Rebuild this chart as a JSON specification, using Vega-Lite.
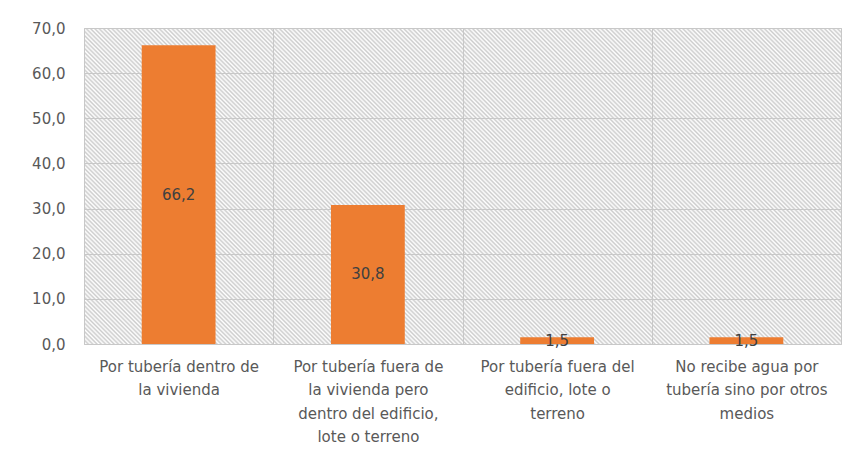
{
  "$schema": "https://vega.github.io/schema/vega-lite/v6.json",
  "width": 757,
  "height": 316,
  "autosize": {"type": "none"},
  "padding": {"left": 84, "top": 28, "right": 15, "bottom": 111},
  "background": "#ffffff",
  "config": {
    "locale": {"number": {"decimal": ",", "thousands": ".", "grouping": [3], "currency": ["", " €"]}},
    "view": {
      "stroke": "#c8c8c8", "strokeWidth": 1,
      "fill": {"gradient": "linear", "x1": 0, "y1": 1, "x2": 1.2071, "y2": 0.4961, "stops": [
{"offset":0.000,"color":"#ccc"},{"offset":0.002,"color":"#fff"},{"offset":0.004,"color":"#ccc"},{"offset":0.006,"color":"#fff"},{"offset":0.008,"color":"#ccc"},
{"offset":0.010,"color":"#fff"},{"offset":0.012,"color":"#ccc"},{"offset":0.014,"color":"#fff"},{"offset":0.016,"color":"#ccc"},{"offset":0.018,"color":"#fff"},
{"offset":0.020,"color":"#ccc"},{"offset":0.022,"color":"#fff"},{"offset":0.024,"color":"#ccc"},{"offset":0.026,"color":"#fff"},{"offset":0.028,"color":"#ccc"},
{"offset":0.030,"color":"#fff"},{"offset":0.032,"color":"#ccc"},{"offset":0.034,"color":"#fff"},{"offset":0.036,"color":"#ccc"},{"offset":0.038,"color":"#fff"},
{"offset":0.040,"color":"#ccc"},{"offset":0.042,"color":"#fff"},{"offset":0.044,"color":"#ccc"},{"offset":0.046,"color":"#fff"},{"offset":0.048,"color":"#ccc"},
{"offset":0.050,"color":"#fff"},{"offset":0.052,"color":"#ccc"},{"offset":0.054,"color":"#fff"},{"offset":0.056,"color":"#ccc"},{"offset":0.058,"color":"#fff"},
{"offset":0.060,"color":"#ccc"},{"offset":0.062,"color":"#fff"},{"offset":0.064,"color":"#ccc"},{"offset":0.066,"color":"#fff"},{"offset":0.068,"color":"#ccc"},
{"offset":0.070,"color":"#fff"},{"offset":0.072,"color":"#ccc"},{"offset":0.074,"color":"#fff"},{"offset":0.076,"color":"#ccc"},{"offset":0.078,"color":"#fff"},
{"offset":0.080,"color":"#ccc"},{"offset":0.082,"color":"#fff"},{"offset":0.084,"color":"#ccc"},{"offset":0.086,"color":"#fff"},{"offset":0.088,"color":"#ccc"},
{"offset":0.090,"color":"#fff"},{"offset":0.092,"color":"#ccc"},{"offset":0.094,"color":"#fff"},{"offset":0.096,"color":"#ccc"},{"offset":0.098,"color":"#fff"},
{"offset":0.100,"color":"#ccc"},{"offset":0.102,"color":"#fff"},{"offset":0.104,"color":"#ccc"},{"offset":0.106,"color":"#fff"},{"offset":0.108,"color":"#ccc"},
{"offset":0.110,"color":"#fff"},{"offset":0.112,"color":"#ccc"},{"offset":0.114,"color":"#fff"},{"offset":0.116,"color":"#ccc"},{"offset":0.118,"color":"#fff"},
{"offset":0.120,"color":"#ccc"},{"offset":0.122,"color":"#fff"},{"offset":0.124,"color":"#ccc"},{"offset":0.126,"color":"#fff"},{"offset":0.128,"color":"#ccc"},
{"offset":0.130,"color":"#fff"},{"offset":0.132,"color":"#ccc"},{"offset":0.134,"color":"#fff"},{"offset":0.136,"color":"#ccc"},{"offset":0.138,"color":"#fff"},
{"offset":0.140,"color":"#ccc"},{"offset":0.142,"color":"#fff"},{"offset":0.144,"color":"#ccc"},{"offset":0.146,"color":"#fff"},{"offset":0.148,"color":"#ccc"},
{"offset":0.150,"color":"#fff"},{"offset":0.152,"color":"#ccc"},{"offset":0.154,"color":"#fff"},{"offset":0.156,"color":"#ccc"},{"offset":0.158,"color":"#fff"},
{"offset":0.160,"color":"#ccc"},{"offset":0.162,"color":"#fff"},{"offset":0.164,"color":"#ccc"},{"offset":0.166,"color":"#fff"},{"offset":0.168,"color":"#ccc"},
{"offset":0.170,"color":"#fff"},{"offset":0.172,"color":"#ccc"},{"offset":0.174,"color":"#fff"},{"offset":0.176,"color":"#ccc"},{"offset":0.178,"color":"#fff"},
{"offset":0.180,"color":"#ccc"},{"offset":0.182,"color":"#fff"},{"offset":0.184,"color":"#ccc"},{"offset":0.186,"color":"#fff"},{"offset":0.188,"color":"#ccc"},
{"offset":0.190,"color":"#fff"},{"offset":0.192,"color":"#ccc"},{"offset":0.194,"color":"#fff"},{"offset":0.196,"color":"#ccc"},{"offset":0.198,"color":"#fff"},
{"offset":0.200,"color":"#ccc"},{"offset":0.202,"color":"#fff"},{"offset":0.204,"color":"#ccc"},{"offset":0.206,"color":"#fff"},{"offset":0.208,"color":"#ccc"},
{"offset":0.210,"color":"#fff"},{"offset":0.212,"color":"#ccc"},{"offset":0.214,"color":"#fff"},{"offset":0.216,"color":"#ccc"},{"offset":0.218,"color":"#fff"},
{"offset":0.220,"color":"#ccc"},{"offset":0.222,"color":"#fff"},{"offset":0.224,"color":"#ccc"},{"offset":0.226,"color":"#fff"},{"offset":0.228,"color":"#ccc"},
{"offset":0.230,"color":"#fff"},{"offset":0.232,"color":"#ccc"},{"offset":0.234,"color":"#fff"},{"offset":0.236,"color":"#ccc"},{"offset":0.238,"color":"#fff"},
{"offset":0.240,"color":"#ccc"},{"offset":0.242,"color":"#fff"},{"offset":0.244,"color":"#ccc"},{"offset":0.246,"color":"#fff"},{"offset":0.248,"color":"#ccc"},
{"offset":0.250,"color":"#fff"},{"offset":0.252,"color":"#ccc"},{"offset":0.254,"color":"#fff"},{"offset":0.256,"color":"#ccc"},{"offset":0.258,"color":"#fff"},
{"offset":0.260,"color":"#ccc"},{"offset":0.262,"color":"#fff"},{"offset":0.264,"color":"#ccc"},{"offset":0.266,"color":"#fff"},{"offset":0.268,"color":"#ccc"},
{"offset":0.270,"color":"#fff"},{"offset":0.272,"color":"#ccc"},{"offset":0.274,"color":"#fff"},{"offset":0.276,"color":"#ccc"},{"offset":0.278,"color":"#fff"},
{"offset":0.280,"color":"#ccc"},{"offset":0.282,"color":"#fff"},{"offset":0.284,"color":"#ccc"},{"offset":0.286,"color":"#fff"},{"offset":0.288,"color":"#ccc"},
{"offset":0.290,"color":"#fff"},{"offset":0.292,"color":"#ccc"},{"offset":0.294,"color":"#fff"},{"offset":0.296,"color":"#ccc"},{"offset":0.298,"color":"#fff"},
{"offset":0.300,"color":"#ccc"},{"offset":0.302,"color":"#fff"},{"offset":0.304,"color":"#ccc"},{"offset":0.306,"color":"#fff"},{"offset":0.308,"color":"#ccc"},
{"offset":0.310,"color":"#fff"},{"offset":0.312,"color":"#ccc"},{"offset":0.314,"color":"#fff"},{"offset":0.316,"color":"#ccc"},{"offset":0.318,"color":"#fff"},
{"offset":0.320,"color":"#ccc"},{"offset":0.322,"color":"#fff"},{"offset":0.324,"color":"#ccc"},{"offset":0.326,"color":"#fff"},{"offset":0.328,"color":"#ccc"},
{"offset":0.330,"color":"#fff"},{"offset":0.332,"color":"#ccc"},{"offset":0.334,"color":"#fff"},{"offset":0.336,"color":"#ccc"},{"offset":0.338,"color":"#fff"},
{"offset":0.340,"color":"#ccc"},{"offset":0.342,"color":"#fff"},{"offset":0.344,"color":"#ccc"},{"offset":0.346,"color":"#fff"},{"offset":0.348,"color":"#ccc"},
{"offset":0.350,"color":"#fff"},{"offset":0.352,"color":"#ccc"},{"offset":0.354,"color":"#fff"},{"offset":0.356,"color":"#ccc"},{"offset":0.358,"color":"#fff"},
{"offset":0.360,"color":"#ccc"},{"offset":0.362,"color":"#fff"},{"offset":0.364,"color":"#ccc"},{"offset":0.366,"color":"#fff"},{"offset":0.368,"color":"#ccc"},
{"offset":0.370,"color":"#fff"},{"offset":0.372,"color":"#ccc"},{"offset":0.374,"color":"#fff"},{"offset":0.376,"color":"#ccc"},{"offset":0.378,"color":"#fff"},
{"offset":0.380,"color":"#ccc"},{"offset":0.382,"color":"#fff"},{"offset":0.384,"color":"#ccc"},{"offset":0.386,"color":"#fff"},{"offset":0.388,"color":"#ccc"},
{"offset":0.390,"color":"#fff"},{"offset":0.392,"color":"#ccc"},{"offset":0.394,"color":"#fff"},{"offset":0.396,"color":"#ccc"},{"offset":0.398,"color":"#fff"},
{"offset":0.400,"color":"#ccc"},{"offset":0.402,"color":"#fff"},{"offset":0.404,"color":"#ccc"},{"offset":0.406,"color":"#fff"},{"offset":0.408,"color":"#ccc"},
{"offset":0.410,"color":"#fff"},{"offset":0.412,"color":"#ccc"},{"offset":0.414,"color":"#fff"},{"offset":0.416,"color":"#ccc"},{"offset":0.418,"color":"#fff"},
{"offset":0.420,"color":"#ccc"},{"offset":0.422,"color":"#fff"},{"offset":0.424,"color":"#ccc"},{"offset":0.426,"color":"#fff"},{"offset":0.428,"color":"#ccc"},
{"offset":0.430,"color":"#fff"},{"offset":0.432,"color":"#ccc"},{"offset":0.434,"color":"#fff"},{"offset":0.436,"color":"#ccc"},{"offset":0.438,"color":"#fff"},
{"offset":0.440,"color":"#ccc"},{"offset":0.442,"color":"#fff"},{"offset":0.444,"color":"#ccc"},{"offset":0.446,"color":"#fff"},{"offset":0.448,"color":"#ccc"},
{"offset":0.450,"color":"#fff"},{"offset":0.452,"color":"#ccc"},{"offset":0.454,"color":"#fff"},{"offset":0.456,"color":"#ccc"},{"offset":0.458,"color":"#fff"},
{"offset":0.460,"color":"#ccc"},{"offset":0.462,"color":"#fff"},{"offset":0.464,"color":"#ccc"},{"offset":0.466,"color":"#fff"},{"offset":0.468,"color":"#ccc"},
{"offset":0.470,"color":"#fff"},{"offset":0.472,"color":"#ccc"},{"offset":0.474,"color":"#fff"},{"offset":0.476,"color":"#ccc"},{"offset":0.478,"color":"#fff"},
{"offset":0.480,"color":"#ccc"},{"offset":0.482,"color":"#fff"},{"offset":0.484,"color":"#ccc"},{"offset":0.486,"color":"#fff"},{"offset":0.488,"color":"#ccc"},
{"offset":0.490,"color":"#fff"},{"offset":0.492,"color":"#ccc"},{"offset":0.494,"color":"#fff"},{"offset":0.496,"color":"#ccc"},{"offset":0.498,"color":"#fff"},
{"offset":0.500,"color":"#ccc"},{"offset":0.502,"color":"#fff"},{"offset":0.504,"color":"#ccc"},{"offset":0.506,"color":"#fff"},{"offset":0.508,"color":"#ccc"},
{"offset":0.510,"color":"#fff"},{"offset":0.512,"color":"#ccc"},{"offset":0.514,"color":"#fff"},{"offset":0.516,"color":"#ccc"},{"offset":0.518,"color":"#fff"},
{"offset":0.520,"color":"#ccc"},{"offset":0.522,"color":"#fff"},{"offset":0.524,"color":"#ccc"},{"offset":0.526,"color":"#fff"},{"offset":0.528,"color":"#ccc"},
{"offset":0.530,"color":"#fff"},{"offset":0.532,"color":"#ccc"},{"offset":0.534,"color":"#fff"},{"offset":0.536,"color":"#ccc"},{"offset":0.538,"color":"#fff"},
{"offset":0.540,"color":"#ccc"},{"offset":0.542,"color":"#fff"},{"offset":0.544,"color":"#ccc"},{"offset":0.546,"color":"#fff"},{"offset":0.548,"color":"#ccc"},
{"offset":0.550,"color":"#fff"},{"offset":0.552,"color":"#ccc"},{"offset":0.554,"color":"#fff"},{"offset":0.556,"color":"#ccc"},{"offset":0.558,"color":"#fff"},
{"offset":0.560,"color":"#ccc"},{"offset":0.562,"color":"#fff"},{"offset":0.564,"color":"#ccc"},{"offset":0.566,"color":"#fff"},{"offset":0.568,"color":"#ccc"},
{"offset":0.570,"color":"#fff"},{"offset":0.572,"color":"#ccc"},{"offset":0.574,"color":"#fff"},{"offset":0.576,"color":"#ccc"},{"offset":0.578,"color":"#fff"},
{"offset":0.580,"color":"#ccc"},{"offset":0.582,"color":"#fff"},{"offset":0.584,"color":"#ccc"},{"offset":0.586,"color":"#fff"},{"offset":0.588,"color":"#ccc"},
{"offset":0.590,"color":"#fff"},{"offset":0.592,"color":"#ccc"},{"offset":0.594,"color":"#fff"},{"offset":0.596,"color":"#ccc"},{"offset":0.598,"color":"#fff"},
{"offset":0.600,"color":"#ccc"},{"offset":0.602,"color":"#fff"},{"offset":0.604,"color":"#ccc"},{"offset":0.606,"color":"#fff"},{"offset":0.608,"color":"#ccc"},
{"offset":0.610,"color":"#fff"},{"offset":0.612,"color":"#ccc"},{"offset":0.614,"color":"#fff"},{"offset":0.616,"color":"#ccc"},{"offset":0.618,"color":"#fff"},
{"offset":0.620,"color":"#ccc"},{"offset":0.622,"color":"#fff"},{"offset":0.624,"color":"#ccc"},{"offset":0.626,"color":"#fff"},{"offset":0.628,"color":"#ccc"},
{"offset":0.630,"color":"#fff"},{"offset":0.632,"color":"#ccc"},{"offset":0.634,"color":"#fff"},{"offset":0.636,"color":"#ccc"},{"offset":0.638,"color":"#fff"},
{"offset":0.640,"color":"#ccc"},{"offset":0.642,"color":"#fff"},{"offset":0.644,"color":"#ccc"},{"offset":0.646,"color":"#fff"},{"offset":0.648,"color":"#ccc"},
{"offset":0.650,"color":"#fff"},{"offset":0.652,"color":"#ccc"},{"offset":0.654,"color":"#fff"},{"offset":0.656,"color":"#ccc"},{"offset":0.658,"color":"#fff"},
{"offset":0.660,"color":"#ccc"},{"offset":0.662,"color":"#fff"},{"offset":0.664,"color":"#ccc"},{"offset":0.666,"color":"#fff"},{"offset":0.668,"color":"#ccc"},
{"offset":0.670,"color":"#fff"},{"offset":0.672,"color":"#ccc"},{"offset":0.674,"color":"#fff"},{"offset":0.676,"color":"#ccc"},{"offset":0.678,"color":"#fff"},
{"offset":0.680,"color":"#ccc"},{"offset":0.682,"color":"#fff"},{"offset":0.684,"color":"#ccc"},{"offset":0.686,"color":"#fff"},{"offset":0.688,"color":"#ccc"},
{"offset":0.690,"color":"#fff"},{"offset":0.692,"color":"#ccc"},{"offset":0.694,"color":"#fff"},{"offset":0.696,"color":"#ccc"},{"offset":0.698,"color":"#fff"},
{"offset":0.700,"color":"#ccc"},{"offset":0.702,"color":"#fff"},{"offset":0.704,"color":"#ccc"},{"offset":0.706,"color":"#fff"},{"offset":0.708,"color":"#ccc"},
{"offset":0.710,"color":"#fff"},{"offset":0.712,"color":"#ccc"},{"offset":0.714,"color":"#fff"},{"offset":0.716,"color":"#ccc"},{"offset":0.718,"color":"#fff"},
{"offset":0.720,"color":"#ccc"},{"offset":0.722,"color":"#fff"},{"offset":0.724,"color":"#ccc"},{"offset":0.726,"color":"#fff"},{"offset":0.728,"color":"#ccc"},
{"offset":0.730,"color":"#fff"},{"offset":0.732,"color":"#ccc"},{"offset":0.734,"color":"#fff"},{"offset":0.736,"color":"#ccc"},{"offset":0.738,"color":"#fff"},
{"offset":0.740,"color":"#ccc"},{"offset":0.742,"color":"#fff"},{"offset":0.744,"color":"#ccc"},{"offset":0.746,"color":"#fff"},{"offset":0.748,"color":"#ccc"},
{"offset":0.750,"color":"#fff"},{"offset":0.752,"color":"#ccc"},{"offset":0.754,"color":"#fff"},{"offset":0.756,"color":"#ccc"},{"offset":0.758,"color":"#fff"},
{"offset":0.760,"color":"#ccc"},{"offset":0.762,"color":"#fff"},{"offset":0.764,"color":"#ccc"},{"offset":0.766,"color":"#fff"},{"offset":0.768,"color":"#ccc"},
{"offset":0.770,"color":"#fff"},{"offset":0.772,"color":"#ccc"},{"offset":0.774,"color":"#fff"},{"offset":0.776,"color":"#ccc"},{"offset":0.778,"color":"#fff"},
{"offset":0.780,"color":"#ccc"},{"offset":0.782,"color":"#fff"},{"offset":0.784,"color":"#ccc"},{"offset":0.786,"color":"#fff"},{"offset":0.788,"color":"#ccc"},
{"offset":0.790,"color":"#fff"},{"offset":0.792,"color":"#ccc"},{"offset":0.794,"color":"#fff"},{"offset":0.796,"color":"#ccc"},{"offset":0.798,"color":"#fff"},
{"offset":0.800,"color":"#ccc"},{"offset":0.802,"color":"#fff"},{"offset":0.804,"color":"#ccc"},{"offset":0.806,"color":"#fff"},{"offset":0.808,"color":"#ccc"},
{"offset":0.810,"color":"#fff"},{"offset":0.812,"color":"#ccc"},{"offset":0.814,"color":"#fff"},{"offset":0.816,"color":"#ccc"},{"offset":0.818,"color":"#fff"},
{"offset":0.820,"color":"#ccc"},{"offset":0.822,"color":"#fff"},{"offset":0.824,"color":"#ccc"},{"offset":0.826,"color":"#fff"},{"offset":0.828,"color":"#ccc"},
{"offset":0.830,"color":"#fff"},{"offset":0.832,"color":"#ccc"},{"offset":0.834,"color":"#fff"},{"offset":0.836,"color":"#ccc"},{"offset":0.838,"color":"#fff"},
{"offset":0.840,"color":"#ccc"},{"offset":0.842,"color":"#fff"},{"offset":0.844,"color":"#ccc"},{"offset":0.846,"color":"#fff"},{"offset":0.848,"color":"#ccc"},
{"offset":0.850,"color":"#fff"},{"offset":0.852,"color":"#ccc"},{"offset":0.854,"color":"#fff"},{"offset":0.856,"color":"#ccc"},{"offset":0.858,"color":"#fff"},
{"offset":0.860,"color":"#ccc"},{"offset":0.862,"color":"#fff"},{"offset":0.864,"color":"#ccc"},{"offset":0.866,"color":"#fff"},{"offset":0.868,"color":"#ccc"},
{"offset":0.870,"color":"#fff"},{"offset":0.872,"color":"#ccc"},{"offset":0.874,"color":"#fff"},{"offset":0.876,"color":"#ccc"},{"offset":0.878,"color":"#fff"},
{"offset":0.880,"color":"#ccc"},{"offset":0.882,"color":"#fff"},{"offset":0.884,"color":"#ccc"},{"offset":0.886,"color":"#fff"},{"offset":0.888,"color":"#ccc"},
{"offset":0.890,"color":"#fff"},{"offset":0.892,"color":"#ccc"},{"offset":0.894,"color":"#fff"},{"offset":0.896,"color":"#ccc"},{"offset":0.898,"color":"#fff"},
{"offset":0.900,"color":"#ccc"},{"offset":0.902,"color":"#fff"},{"offset":0.904,"color":"#ccc"},{"offset":0.906,"color":"#fff"},{"offset":0.908,"color":"#ccc"},
{"offset":0.910,"color":"#fff"},{"offset":0.912,"color":"#ccc"},{"offset":0.914,"color":"#fff"},{"offset":0.916,"color":"#ccc"},{"offset":0.918,"color":"#fff"},
{"offset":0.920,"color":"#ccc"},{"offset":0.922,"color":"#fff"},{"offset":0.924,"color":"#ccc"},{"offset":0.926,"color":"#fff"},{"offset":0.928,"color":"#ccc"},
{"offset":0.930,"color":"#fff"},{"offset":0.932,"color":"#ccc"},{"offset":0.934,"color":"#fff"},{"offset":0.936,"color":"#ccc"},{"offset":0.938,"color":"#fff"},
{"offset":0.940,"color":"#ccc"},{"offset":0.942,"color":"#fff"},{"offset":0.944,"color":"#ccc"},{"offset":0.946,"color":"#fff"},{"offset":0.948,"color":"#ccc"},
{"offset":0.950,"color":"#fff"},{"offset":0.952,"color":"#ccc"},{"offset":0.954,"color":"#fff"},{"offset":0.956,"color":"#ccc"},{"offset":0.958,"color":"#fff"},
{"offset":0.960,"color":"#ccc"},{"offset":0.962,"color":"#fff"},{"offset":0.964,"color":"#ccc"},{"offset":0.966,"color":"#fff"},{"offset":0.968,"color":"#ccc"},
{"offset":0.970,"color":"#fff"},{"offset":0.972,"color":"#ccc"},{"offset":0.974,"color":"#fff"},{"offset":0.976,"color":"#ccc"},{"offset":0.978,"color":"#fff"},
{"offset":0.980,"color":"#ccc"},{"offset":0.982,"color":"#fff"},{"offset":0.984,"color":"#ccc"},{"offset":0.986,"color":"#fff"},{"offset":0.988,"color":"#ccc"},
{"offset":0.990,"color":"#fff"},{"offset":0.992,"color":"#ccc"},{"offset":0.994,"color":"#fff"},{"offset":0.996,"color":"#ccc"},{"offset":0.998,"color":"#fff"},
{"offset":1.000,"color":"#ccc"}
      ]}
    },
    "font": "DejaVu Sans"
  },
  "data": {
    "values": [
      {"cat": "Por tubería dentro de|la vivienda", "value": 66.2},
      {"cat": "Por tubería fuera de|la vivienda pero|dentro del edificio,|lote o terreno", "value": 30.8},
      {"cat": "Por tubería fuera del|edificio, lote o|terreno", "value": 1.5},
      {"cat": "No recibe agua por|tubería sino por otros|medios", "value": 1.5}
    ]
  },
  "layer": [
    {
      "mark": {"type": "bar", "width": {"band": 0.39}, "color": "#ED7D31"},
      "encoding": {
        "x": {
          "field": "cat", "type": "nominal", "sort": null,
          "scale": {"paddingInner": 0, "paddingOuter": 0},
          "axis": {
            "title": null, "labelAngle": 0, "labelExpr": "datum.value ? split(datum.value, '|') : ''",
            "grid": true, "tickBand": "extent", "gridColor": "#c8c8c8", "gridWidth": 1,
            "ticks": false, "domain": false, "labelFontSize": 15, "labelColor": "#595959",
            "labelLineHeight": 23.5, "labelPadding": 15, "labelLimit": 0
          }
        },
        "y": {
          "field": "value", "type": "quantitative",
          "scale": {"domain": [0, 70], "nice": false},
          "axis": {
            "title": null, "values": [0, 10, 20, 30, 40, 50, 60, 70], "format": ".1f",
            "grid": true, "gridColor": "#c8c8c8", "gridWidth": 1, "domain": false, "ticks": false,
            "labelFontSize": 15, "labelColor": "#595959", "labelPadding": 19
          }
        }
      }
    },
    {
      "mark": {"type": "text", "fontSize": 15, "color": "#404040"},
      "encoding": {
        "x": {"field": "cat", "type": "nominal", "sort": null},
        "y": {"field": "value", "type": "quantitative", "stack": "zero", "bandPosition": 0.5},
        "text": {"field": "value", "type": "quantitative", "format": ".1f"}
      }
    }
  ]
}
